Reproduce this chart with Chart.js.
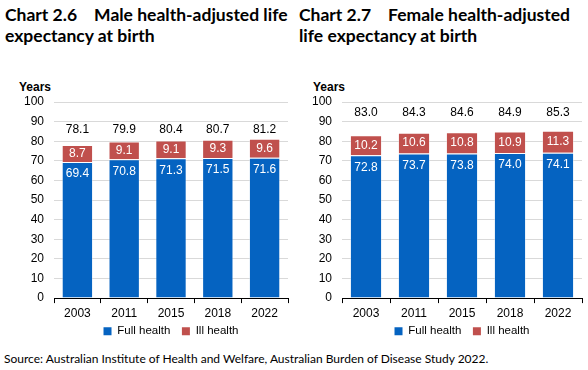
<!DOCTYPE html>
<html><head><meta charset="utf-8">
<script src="https://cdn.jsdelivr.net/npm/chart.js@4"></script>
<style>
html,body{margin:0;padding:0;background:#fff;width:588px;height:370px;overflow:hidden;}
.t{position:absolute;font-family:Lato,"Open Sans",sans-serif;font-weight:bold;font-size:17.5px;line-height:21px;color:#000;white-space:pre;}
.y{position:absolute;font-family:"Liberation Sans",Arial,sans-serif;font-weight:bold;font-size:12px;color:#000;}
.src{position:absolute;left:4px;top:351px;font-family:Lato,"Open Sans",sans-serif;font-size:12px;color:#000;}
.c{position:absolute;}
</style></head><body>
<div class="t" style="left:5px;top:4px">Chart 2.6    Male health-adjusted life
expectancy at birth</div>
<div class="t" style="left:299px;top:4px">Chart 2.7    Female health-adjusted
life expectancy at birth</div>
<div class="y" style="left:19px;top:80px">Years</div>
<div class="y" style="left:313px;top:80px">Years</div>
<div class="c" style="left:0;top:78px;width:294px;height:269px"><canvas id="m"></canvas></div>
<div class="c" style="left:288px;top:78px;width:300px;height:269px"><canvas id="f"></canvas></div>
<div class="src">Source: Australian Institute of Health and Welfare, Australian Burden of Disease Study 2022.</div>
<script>
const years = ["2003","2011","2015","2018","2022"];
const maleFull = [69.4, 70.8, 71.3, 71.5, 71.6];
const maleIll = [8.7, 9.1, 9.1, 9.3, 9.6];
const maleTotal = [78.1, 79.9, 80.4, 80.7, 81.2];
const femaleFull = [72.8, 73.7, 73.8, 74.0, 74.1];
const femaleIll = [10.2, 10.6, 10.8, 10.9, 11.3];
const femaleTotal = [83.0, 84.3, 84.6, 84.9, 85.3];
const yTicks = [0,10,20,30,40,50,60,70,80,90,100];

const BLUE = "#0563C1", RED = "#C0504D";
const FONT = "'Liberation Sans', Arial, sans-serif";

const labelPlugin = {
  id: 'lbls',
  afterDatasetsDraw(chart, args, opts) {
    const ctx = chart.ctx;
    ctx.save();
    ctx.font = "12px " + FONT;
    ctx.textAlign = "center";
    ctx.textBaseline = "middle";
    const m0 = chart.getDatasetMeta(0), m1 = chart.getDatasetMeta(1);
    const ys = chart.scales.y;
    m0.data.forEach((bar, i) => {
      ctx.fillStyle = "#fff";
      ctx.fillText(chart.data.datasets[0].data[i].toFixed(1), bar.x, bar.y + 12);
      const b1 = m1.data[i];
      ctx.fillText(chart.data.datasets[1].data[i].toFixed(1), b1.x, (b1.y + b1.base) / 2);
      ctx.fillStyle = "#000";
      ctx.fillText(opts.totals[i].toFixed(1), bar.x, ys.top + opts.totalOffset);
    });
    ctx.restore();
  }
};

function make(id, full, ill, totals, yWidth, totalOffset) {
  return new Chart(document.getElementById(id), {
    type: 'bar',
    data: {
      labels: years,
      datasets: [
        {label: "Full health", data: full, backgroundColor: BLUE, borderColor: "rgba(255,255,255,0.35)", borderWidth: 1},
        {label: "Ill health", data: ill, backgroundColor: RED, borderColor: "rgba(255,255,255,0.35)", borderWidth: 1}
      ]
    },
    plugins: [labelPlugin],
    options: {
      responsive: true, maintainAspectRatio: false, animation: false,
      devicePixelRatio: 1,
      layout: {padding: {top: 24, right: 6, left: 0, bottom: 0}},
      datasets: {bar: {barPercentage: 1, categoryPercentage: 0.67}},
      plugins: {
        legend: {position: 'bottom', fullSize: false, labels: {
          boxWidth: 8, boxHeight: 8, padding: 2, color: "#000", font: {family: FONT, size: 11.5},
          generateLabels: ch => Chart.defaults.plugins.legend.labels.generateLabels(ch)
            .map((l, i) => Object.assign(l, {text: i === 0 ? l.text + "   " : l.text, lineWidth: 0}))
        }},
        tooltip: {enabled: false},
        lbls: {totals: totals, totalOffset: totalOffset}
      },
      scales: {
        x: {
          stacked: true,
          grid: {drawOnChartArea: false, drawTicks: true, tickLength: 5, color: "#000", offset: true},
          border: {color: "#000", width: 1},
          ticks: {color: "#000", font: {family: FONT, size: 12}, padding: 3}
        },
        y: {
          stacked: true, min: 0, max: 100,
          afterBuildTicks: s => { s.ticks = yTicks.map(v => ({value: v})); },
          afterFit: s => { s.width = yWidth; },
          grid: {color: "#D9D9D9", drawTicks: false},
          border: {display: false},
          ticks: {color: "#000", font: {family: FONT, size: 12}, padding: 10}
        }
      }
    }
  });
}
make('m', maleFull, maleIll, maleTotal, 54, 28);
make('f', femaleFull, femaleIll, femaleTotal, 54, 11);
</script>
</body></html>
